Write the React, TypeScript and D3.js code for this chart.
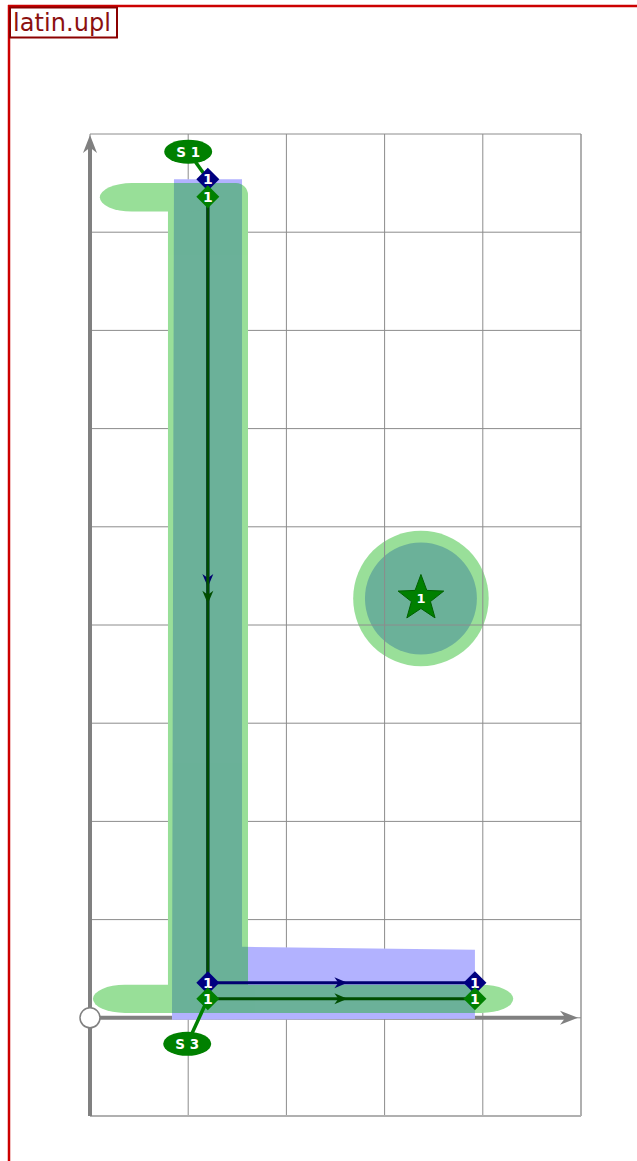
import React from 'react'
import * as d3 from 'd3'

// grid extents (map units)
const xTicks = [0, 1, 2, 3, 4, 5]
const yTicks = [-1, 0, 1, 2, 3, 4, 5, 6, 7, 8, 9]

// tracks: [x, y] vertices
const blueTrack: [number, number][] = [[1.2, 8.54], [1.2, 0.356], [3.92, 0.356]]
const greenTrack: [number, number][] = [[1.2, 8.36], [1.2, 0.193], [3.92, 0.193]]

// shaded areas
const blueArea: [number, number][] = [
  [0.855, 8.54], [1.548, 8.54], [1.548, 0.723], [3.92, 0.692], [3.92, -0.01], [0.835, -0.02]
]
const greenBar = { x0: 0.794, x1: 1.609, y0: 0.05, y1: 8.5 }
const greenTopPill = { x0: 0.1, x1: 1.3, y0: 8.21, y1: 8.5 }
const greenBottomPill = { x0: 0.03, x1: 4.31, y0: 0.05, y1: 0.336 }

// point feature
const star = { x: 3.37, y: 4.27, label: '1' }
const starBlueRadius = 0.57
const starGreenRadius = 0.69

// start labels: [labelX, labelY, anchorX, anchorY, text]
const startLabels: [number, number, number, number, string][] = [
  [1.0, 8.82, 1.2, 8.54, 'S 1'],
  [0.99, -0.265, 1.2, 0.193, 'S 3'],
]

const W = 637
const H = 1161

const x = d3.scaleLinear().domain([0, 5]).range([90, 581])
const y = d3.scaleLinear().domain([-1, 9]).range([1116, 134])

const FONT = '"DejaVu Sans", "Open Sans", sans-serif'

function arrowHead(tx: number, ty: number, angle: number, len: number, half: number) {
  // concave arrowhead pointing along angle, tip at (tx, ty)
  const c = Math.cos(angle), s = Math.sin(angle)
  const pt = (a: number, b: number) => [tx + a * c - b * s, ty + a * s + b * c]
  const p = d3.path()
  const [x1, y1] = pt(-len, -half)
  const [x2, y2] = pt(-len * 0.7, 0)
  const [x3, y3] = pt(-len, half)
  p.moveTo(tx, ty)
  p.lineTo(x1, y1)
  p.lineTo(x2, y2)
  p.lineTo(x3, y3)
  p.closePath()
  return p.toString()
}

function Diamond({ cx, cy, fill }: { cx: number; cy: number; fill: string }) {
  const r = 11.5
  return (
    <g>
      <path d={`M${cx},${cy - r}L${cx + r},${cy}L${cx},${cy + r}L${cx - r},${cy}Z`} fill={fill} />
      <text x={cx} y={cy + 5} textAnchor="middle" fill="white" fontSize={14} fontWeight="bold" fontFamily={FONT}>1</text>
    </g>
  )
}

function Track({ pts, line }: { pts: [number, number][]; line: string }) {
  const gen = d3.line<[number, number]>().x(d => x(d[0])).y(d => y(d[1]))
  const arrows = pts.slice(1).map((p, i) => {
    const a = pts[i]
    const mx = (x(a[0]) + x(p[0])) / 2
    const my = (y(a[1]) + y(p[1])) / 2
    const ang = Math.atan2(y(p[1]) - y(a[1]), x(p[0]) - x(a[0]))
    return <path key={i} d={arrowHead(mx + 6 * Math.cos(ang), my + 6 * Math.sin(ang), ang, 13, 5.5)} fill={line} />
  })
  return (
    <g>
      <path d={gen(pts) || ''} fill="none" stroke={line} strokeWidth={3} />
      {arrows}
    </g>
  )
}

export default function App() {
  const ux = x(1) - x(0)
  const bar = d3.path()
  const rc = 12
  bar.moveTo(x(greenBar.x0), y(greenBar.y0))
  bar.lineTo(x(greenBar.x0), y(greenBar.y1))
  bar.lineTo(x(greenBar.x1) - rc, y(greenBar.y1))
  bar.arcTo(x(greenBar.x1), y(greenBar.y1), x(greenBar.x1), y(greenBar.y1) + rc, rc)
  bar.lineTo(x(greenBar.x1), y(greenBar.y0))
  bar.closePath()

  const pill = (p: { x0: number; x1: number; y0: number; y1: number }) => (
    <rect x={x(p.x0)} y={y(p.y1)} width={x(p.x1) - x(p.x0)} height={y(p.y0) - y(p.y1)}
      rx={32} ry={(y(p.y0) - y(p.y1)) / 2} />
  )
  const blueD = 'M' + blueArea.map(p => `${x(p[0])},${y(p[1])}`).join('L') + 'Z'

  const starPath = () => {
    const cx = x(star.x), cy = y(star.y)
    const pts: string[] = []
    for (let i = 0; i < 10; i++) {
      const r = i % 2 === 0 ? 24 : 10
      const a = -Math.PI / 2 + (i * Math.PI) / 5
      pts.push(`${cx + r * Math.cos(a)},${cy + r * Math.sin(a)}`)
    }
    return 'M' + pts.join('L') + 'Z'
  }

  return (
    <svg width={W} height={H} style={{ position: 'absolute', left: 0, top: 0 }}>
      <rect width={W} height={H} fill="white" />

      {/* frame */}
      <line x1={9} y1={5} x2={9} y2={H} stroke="#cc0000" strokeWidth={2.5} />
      <line x1={8} y1={6} x2={W} y2={6} stroke="#cc0000" strokeWidth={2.5} />
      <rect x={10} y={7.5} width={107} height={30} fill="white" stroke="#8b0000" strokeWidth={2} />
      <text x={13} y={31} fontSize={24} fill="#8b1010" fontFamily={FONT} textLength={98}>latin.upl</text>

      {/* area circles sit under the grid */}
      <circle cx={x(star.x)} cy={y(star.y)} r={starBlueRadius * ux} fill="#0000ff" opacity={0.3} />
      <circle cx={x(star.x)} cy={y(star.y)} r={starGreenRadius * ux} fill="#00b000" opacity={0.4} />

      {/* grid */}
      <g>
        {xTicks.map(t => (
          <line key={'x' + t} x1={x(t)} x2={x(t)} y1={y(9)} y2={y(-1)}
            stroke={t === 5 ? '#b0b0b0' : '#8c8c8c'} strokeWidth={t === 5 ? 2 : 1} />
        ))}
        {yTicks.map(t => (
          <line key={'y' + t} x1={x(0)} x2={x(5)} y1={y(t)} y2={y(t)}
            stroke={t === -1 ? '#b0b0b0' : '#8c8c8c'} strokeWidth={t === -1 ? 2 : 1} />
        ))}
      </g>

      {/* axes */}
      <line x1={x(0)} y1={y(-1)} x2={x(0)} y2={y(9) + 12} stroke="#808080" strokeWidth={4} />
      <path d={arrowHead(x(0), y(9) + 1, -Math.PI / 2, 18, 7)} fill="#808080" />
      <line x1={x(0)} y1={y(0)} x2={x(5) - 12} y2={y(0)} stroke="#808080" strokeWidth={4} />
      <path d={arrowHead(x(5) - 3, y(0), 0, 18, 7)} fill="#808080" />

      {/* track areas cover the grid */}
      <g fill="white">
        <path d={blueD} />
        <path d={bar.toString()} />
        {pill(greenTopPill)}
        {pill(greenBottomPill)}
      </g>
      <path d={blueD} fill="#0000ff" opacity={0.3} />
      <g fill="#00b000" opacity={0.4}>
        <path d={bar.toString()} />
        {pill(greenTopPill)}
        {pill(greenBottomPill)}
      </g>

      {/* origin */}
      <circle cx={x(0)} cy={y(0)} r={10} fill="white" stroke="#808080" strokeWidth={1.5} />

      {/* tracks */}
      <Track pts={blueTrack} line="#000070" />
      <Track pts={greenTrack} line="#004d00" />

      {/* start labels */}
      {startLabels.map(([lx, ly, ax, ay, txt]) => (
        <g key={txt}>
          <line x1={x(lx)} y1={y(ly)} x2={x(ax)} y2={y(ay)} stroke="#008000" strokeWidth={3.5} />
          <ellipse cx={x(lx)} cy={y(ly)} rx={24} ry={12} fill="#008000" />
          <text x={x(lx)} y={y(ly) + 5} textAnchor="middle" fill="white" fontSize={13.5} fontWeight="bold" fontFamily={FONT}>{txt}</text>
        </g>
      ))}

      {/* vertices */}
      {blueTrack.map((p, i) => <Diamond key={'b' + i} cx={x(p[0])} cy={y(p[1])} fill="#000080" />)}
      {greenTrack.map((p, i) => <Diamond key={'g' + i} cx={x(p[0])} cy={y(p[1])} fill="#008000" />)}

      {/* star */}
      <path d={starPath()} fill="#008000" stroke="#006000" strokeWidth={1} />
      <text x={x(star.x)} y={y(star.y) + 5} textAnchor="middle" fill="white" fontSize={13} fontWeight="bold" fontFamily={FONT}>{star.label}</text>
    </svg>
  )
}
